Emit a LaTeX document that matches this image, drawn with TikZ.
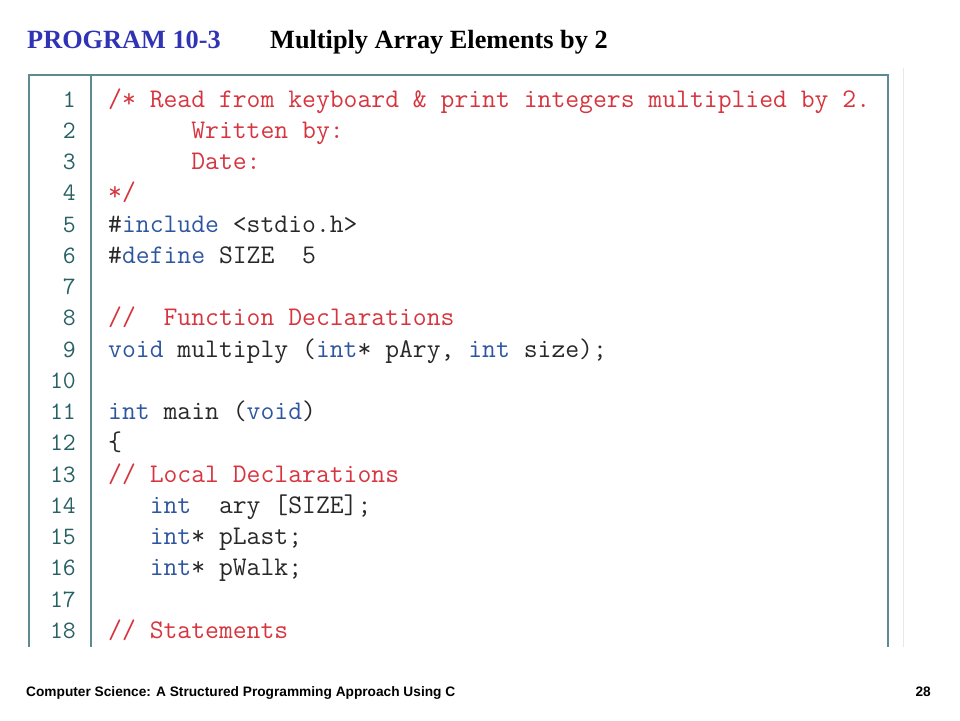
\documentclass[tikz,border=0pt]{standalone}
\usepackage{fontspec}
\setmainfont{Liberation Serif}
\newfontfamily\footfont{Liberation Sans}
\definecolor{cmtred}{RGB}{214,52,62}
\definecolor{kwblue}{RGB}{46,86,160}
\definecolor{codegray}{RGB}{40,40,40}
\definecolor{numteal}{RGB}{40,96,100}
\definecolor{boxteal}{RGB}{92,140,146}
\definecolor{titleblue}{RGB}{48,52,180}
\definecolor{faint}{RGB}{232,232,232}
\newcommand\cm[1]{\textcolor{cmtred}{#1}}
\newcommand\kw[1]{\textcolor{kwblue}{#1}}
\newcommand\ind[1]{\hspace*{#1\fontcharwd\font`x}}
\tikzset{
  codeline/.style={anchor=base west, inner sep=0pt, text=codegray,
    font=\ttfamily\fontsize{26.9}{26.9}\selectfont},
  lineno/.style={anchor=base east, inner sep=0pt, text=numteal,
    font=\ttfamily\fontsize{25}{25}\selectfont},
  boxline/.style={draw=boxteal, line width=2.4pt},
}
\begin{document}
\begin{tikzpicture}[x=1pt,y=-1pt]
\useasboundingbox (0,0) rectangle (960,720);
% title
\node[anchor=base west, inner sep=0pt, text=titleblue, font=\bfseries\fontsize{26.3}{26.3}\selectfont] (ttl) at (27,48) {PROGRAM 10-3};
\node[anchor=base west, inner sep=0pt, text=black, font=\bfseries\fontsize{26.3}{26.3}\selectfont] (sub) at (270,48) {Multiply Array Elements by 2};
% faint line
\draw[faint, line width=1pt] (903,68) -- (903,647);
% box
\draw[boxline] (29,647) -- (29,75) -- (888,75) -- (888,647);
\draw[boxline] (91,75) -- (91,647);
% line numbers
\foreach \n in {1,...,18} {
  \node[lineno] (n\n) at (76,{107+(\n-1)*31.25}) {\n};
}
% code
\def\yy#1{{107+(#1-1)*31.25}}
\node[codeline] (c1) at (108,\yy{1}) {\cm{/* Read from keyboard \& print integers multiplied by 2.}};
\node[codeline] (c2) at (108,\yy{2}) {\ind{6}\cm{Written by:}};
\node[codeline] (c3) at (108,\yy{3}) {\ind{6}\cm{Date:}};
\node[codeline] (c4) at (108,\yy{4}) {\cm{*/}};
\node[codeline] (c5) at (108,\yy{5}) {\#\kw{include} <stdio.h>};
\node[codeline] (c6) at (108,\yy{6}) {\#\kw{define} SIZE\ind{2}5};
\node[codeline] (c8) at (108,\yy{8}) {\cm{//\ind{2}Function Declarations}};
\node[codeline] (c9) at (108,\yy{9}) {\kw{void} multiply (\kw{int}* pAry, \kw{int} size);};
\node[codeline] (c11) at (108,\yy{11}) {\kw{int} main (\kw{void})};
\node[codeline] (c12) at (108,\yy{12}) {\{};
\node[codeline] (c13) at (108,\yy{13}) {\cm{// Local Declarations}};
\node[codeline] (c14) at (108,\yy{14}) {\ind{3}\kw{int}\ind{2}ary [SIZE];};
\node[codeline] (c15) at (108,\yy{15}) {\ind{3}\kw{int}* pLast;};
\node[codeline] (c16) at (108,\yy{16}) {\ind{3}\kw{int}* pWalk;};
\node[codeline] (c18) at (108,\yy{18}) {\cm{// Statements}};
% footer
\node[anchor=base west, inner sep=0pt, font=\footfont\bfseries\fontsize{13.7}{13.7}\selectfont] (foot) at (26,696) {Computer Science: A Structured Programming Approach Using C};
\node[anchor=base east, inner sep=0pt, font=\footfont\bfseries\fontsize{13.7}{13.7}\selectfont] (pg) at (931,696) {28};
\end{tikzpicture}
\end{document}
